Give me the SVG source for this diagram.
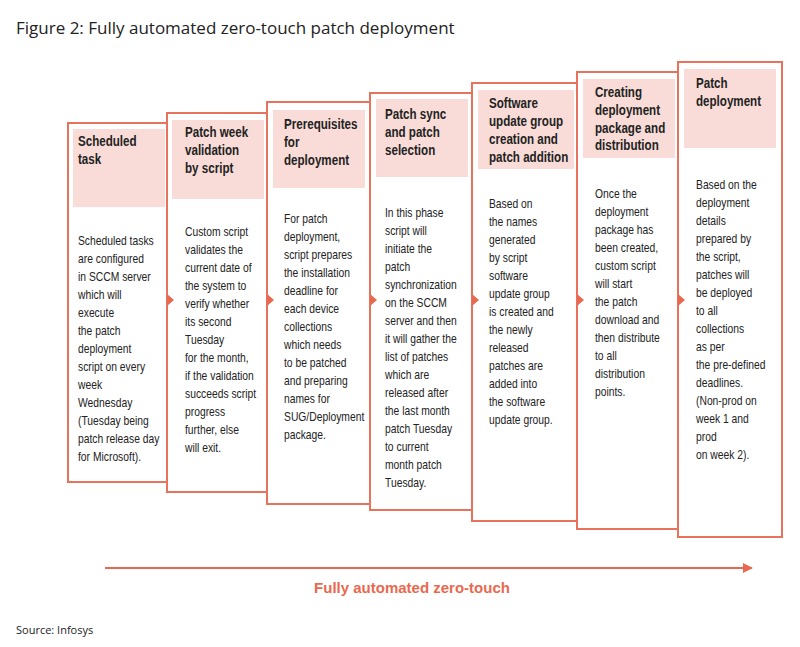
<svg xmlns="http://www.w3.org/2000/svg" width="800" height="647" viewBox="0 0 800 647">
<defs>
<style>
.card{fill:#fff;stroke:#e8735d;stroke-width:2}
.hd{fill:#f9dcd7}
.h{font-family:"Liberation Sans",sans-serif;font-weight:bold;font-size:14.5px;fill:#222}
.b{font-family:"Liberation Sans",sans-serif;font-size:12.3px;fill:#222}
.tri{fill:#e8694f}
</style>
<marker id="ah" markerWidth="10" markerHeight="10" refX="9" refY="5" orient="auto" markerUnits="userSpaceOnUse"><path d="M0,0 L10,5 L0,10 z" fill="#e8694f"/></marker>
</defs>
<rect width="800" height="647" fill="#fff"/>
<text x="16" y="34" font-family="'Open Sans',sans-serif" font-size="17" fill="#222">Figure 2: Fully automated zero-touch patch deployment</text>

<g id="n1"><rect class="card" x="68" y="123" width="105" height="359"/><rect class="hd" x="73" y="129" width="92" height="78"/>
<text class="h" transform="translate(15.6,0) scale(0.8,1)"><tspan x="78" y="146">Scheduled</tspan><tspan x="78" y="164">task</tspan></text>
<text class="b" transform="translate(12.48,0) scale(0.84,1)"><tspan x="78" y="245">Scheduled tasks</tspan><tspan x="78" y="263">are configured</tspan><tspan x="78" y="281">in SCCM server</tspan><tspan x="78" y="299">which will</tspan><tspan x="78" y="317">execute</tspan><tspan x="78" y="335">the patch</tspan><tspan x="78" y="353">deployment</tspan><tspan x="78" y="371">script on every</tspan><tspan x="78" y="389">week</tspan><tspan x="78" y="407">Wednesday</tspan><tspan x="78" y="425">(Tuesday being</tspan><tspan x="78" y="443">patch release day</tspan><tspan x="78" y="461">for Microsoft).</tspan></text></g>

<g id="n2"><rect class="card" x="167" y="113" width="105" height="379"/><rect class="hd" x="172" y="120" width="92" height="79"/><path class="tri" d="M167,294 L174,300 L167,306 z"/>
<text class="h" transform="translate(37,0) scale(0.8,1)"><tspan x="185" y="137">Patch week</tspan><tspan x="185" y="155">validation</tspan><tspan x="185" y="173">by script</tspan></text>
<text class="b" transform="translate(29.6,0) scale(0.84,1)"><tspan x="185" y="236">Custom script</tspan><tspan x="185" y="254">validates the</tspan><tspan x="185" y="272">current date of</tspan><tspan x="185" y="290">the system to</tspan><tspan x="185" y="308">verify whether</tspan><tspan x="185" y="326">its second</tspan><tspan x="185" y="344">Tuesday</tspan><tspan x="185" y="362">for the month,</tspan><tspan x="185" y="380">if the validation</tspan><tspan x="185" y="398">succeeds script</tspan><tspan x="185" y="416">progress</tspan><tspan x="185" y="434">further, else</tspan><tspan x="185" y="452">will exit.</tspan></text></g>

<g id="n3"><rect class="card" x="267" y="102" width="108" height="402"/><rect class="hd" x="273" y="110" width="92" height="78"/><path class="tri" d="M267,294 L274,300 L267,306 z"/>
<text class="h" transform="translate(56.8,0) scale(0.8,1)"><tspan x="284" y="129">Prerequisites</tspan><tspan x="284" y="147">for</tspan><tspan x="284" y="165">deployment</tspan></text>
<text class="b" transform="translate(45.44,0) scale(0.84,1)"><tspan x="284" y="223">For patch</tspan><tspan x="284" y="241">deployment,</tspan><tspan x="284" y="259">script prepares</tspan><tspan x="284" y="277">the installation</tspan><tspan x="284" y="295">deadline for</tspan><tspan x="284" y="313">each device</tspan><tspan x="284" y="331">collections</tspan><tspan x="284" y="349">which needs</tspan><tspan x="284" y="367">to be patched</tspan><tspan x="284" y="385">and preparing</tspan><tspan x="284" y="403">names for</tspan><tspan x="284" y="421">SUG/Deployment</tspan><tspan x="284" y="439">package.</tspan></text></g>

<g id="n4"><rect class="card" x="370" y="93" width="108" height="417"/><rect class="hd" x="376" y="99" width="92" height="78"/><path class="tri" d="M370,294 L377,300 L370,306 z"/>
<text class="h" transform="translate(77,0) scale(0.8,1)"><tspan x="385" y="119">Patch sync</tspan><tspan x="385" y="137">and patch</tspan><tspan x="385" y="155">selection</tspan></text>
<text class="b" transform="translate(61.6,0) scale(0.84,1)"><tspan x="385" y="217">In this phase</tspan><tspan x="385" y="235">script will</tspan><tspan x="385" y="253">initiate the</tspan><tspan x="385" y="271">patch</tspan><tspan x="385" y="289">synchronization</tspan><tspan x="385" y="307">on the SCCM</tspan><tspan x="385" y="325">server and then</tspan><tspan x="385" y="343">it will gather the</tspan><tspan x="385" y="361">list of patches</tspan><tspan x="385" y="379">which are</tspan><tspan x="385" y="397">released after</tspan><tspan x="385" y="415">the last month</tspan><tspan x="385" y="433">patch Tuesday</tspan><tspan x="385" y="451">to current</tspan><tspan x="385" y="469">month patch</tspan><tspan x="385" y="487">Tuesday.</tspan></text></g>

<g id="n5"><rect class="card" x="472" y="83" width="110" height="438"/><rect class="hd" x="478" y="90" width="96" height="79"/><path class="tri" d="M472,294 L479,300 L472,306 z"/>
<text class="h" transform="translate(97.8,0) scale(0.8,1)"><tspan x="489" y="108">Software</tspan><tspan x="489" y="126">update group</tspan><tspan x="489" y="144">creation and</tspan><tspan x="489" y="162">patch addition</tspan></text>
<text class="b" transform="translate(78.24,0) scale(0.84,1)"><tspan x="489" y="208">Based on</tspan><tspan x="489" y="226">the names</tspan><tspan x="489" y="244">generated</tspan><tspan x="489" y="262">by script</tspan><tspan x="489" y="280">software</tspan><tspan x="489" y="298">update group</tspan><tspan x="489" y="316">is created and</tspan><tspan x="489" y="334">the newly</tspan><tspan x="489" y="352">released</tspan><tspan x="489" y="370">patches are</tspan><tspan x="489" y="388">added into</tspan><tspan x="489" y="406">the software</tspan><tspan x="489" y="424">update group.</tspan></text></g>

<g id="n6"><rect class="card" x="577" y="72" width="107" height="457"/><rect class="hd" x="583" y="79" width="92" height="79"/><path class="tri" d="M577,294 L584,300 L577,306 z"/>
<text class="h" transform="translate(119,0) scale(0.8,1)"><tspan x="595" y="97">Creating</tspan><tspan x="595" y="115">deployment</tspan><tspan x="595" y="133">package and</tspan><tspan x="595" y="150">distribution</tspan></text>
<text class="b" transform="translate(95.2,0) scale(0.84,1)"><tspan x="595" y="198">Once the</tspan><tspan x="595" y="216">deployment</tspan><tspan x="595" y="234">package has</tspan><tspan x="595" y="252">been created,</tspan><tspan x="595" y="270">custom script</tspan><tspan x="595" y="288">will start</tspan><tspan x="595" y="306">the patch</tspan><tspan x="595" y="324">download and</tspan><tspan x="595" y="342">then distribute</tspan><tspan x="595" y="360">to all</tspan><tspan x="595" y="378">distribution</tspan><tspan x="595" y="396">points.</tspan></text></g>

<g id="n7"><rect class="card" x="678" y="62" width="104" height="475"/><rect class="hd" x="684" y="69" width="92" height="79"/><path class="tri" d="M678,294 L685,300 L678,306 z"/>
<text class="h" transform="translate(139.2,0) scale(0.8,1)"><tspan x="696" y="88">Patch</tspan><tspan x="696" y="106">deployment</tspan></text>
<text class="b" transform="translate(111.36,0) scale(0.84,1)"><tspan x="696" y="189">Based on the</tspan><tspan x="696" y="207">deployment</tspan><tspan x="696" y="225">details</tspan><tspan x="696" y="243">prepared by</tspan><tspan x="696" y="261">the script,</tspan><tspan x="696" y="279">patches will</tspan><tspan x="696" y="297">be deployed</tspan><tspan x="696" y="315">to all</tspan><tspan x="696" y="333">collections</tspan><tspan x="696" y="351">as per</tspan><tspan x="696" y="369">the pre-defined</tspan><tspan x="696" y="387">deadlines.</tspan><tspan x="696" y="405">(Non-prod on</tspan><tspan x="696" y="423">week 1 and</tspan><tspan x="696" y="441">prod</tspan><tspan x="696" y="459">on week 2).</tspan></text></g>

<g id="connectors"><line x1="105" y1="568" x2="752" y2="568" stroke="#e8694f" stroke-width="2" marker-end="url(#ah)"/></g>
<text x="412" y="593" text-anchor="middle" font-family="'Liberation Sans',sans-serif" font-weight="bold" font-size="15" fill="#e8694f">Fully automated zero-touch</text>
<text x="16" y="634" font-family="'Open Sans',sans-serif" font-size="11" fill="#222">Source: Infosys</text>
</svg>
